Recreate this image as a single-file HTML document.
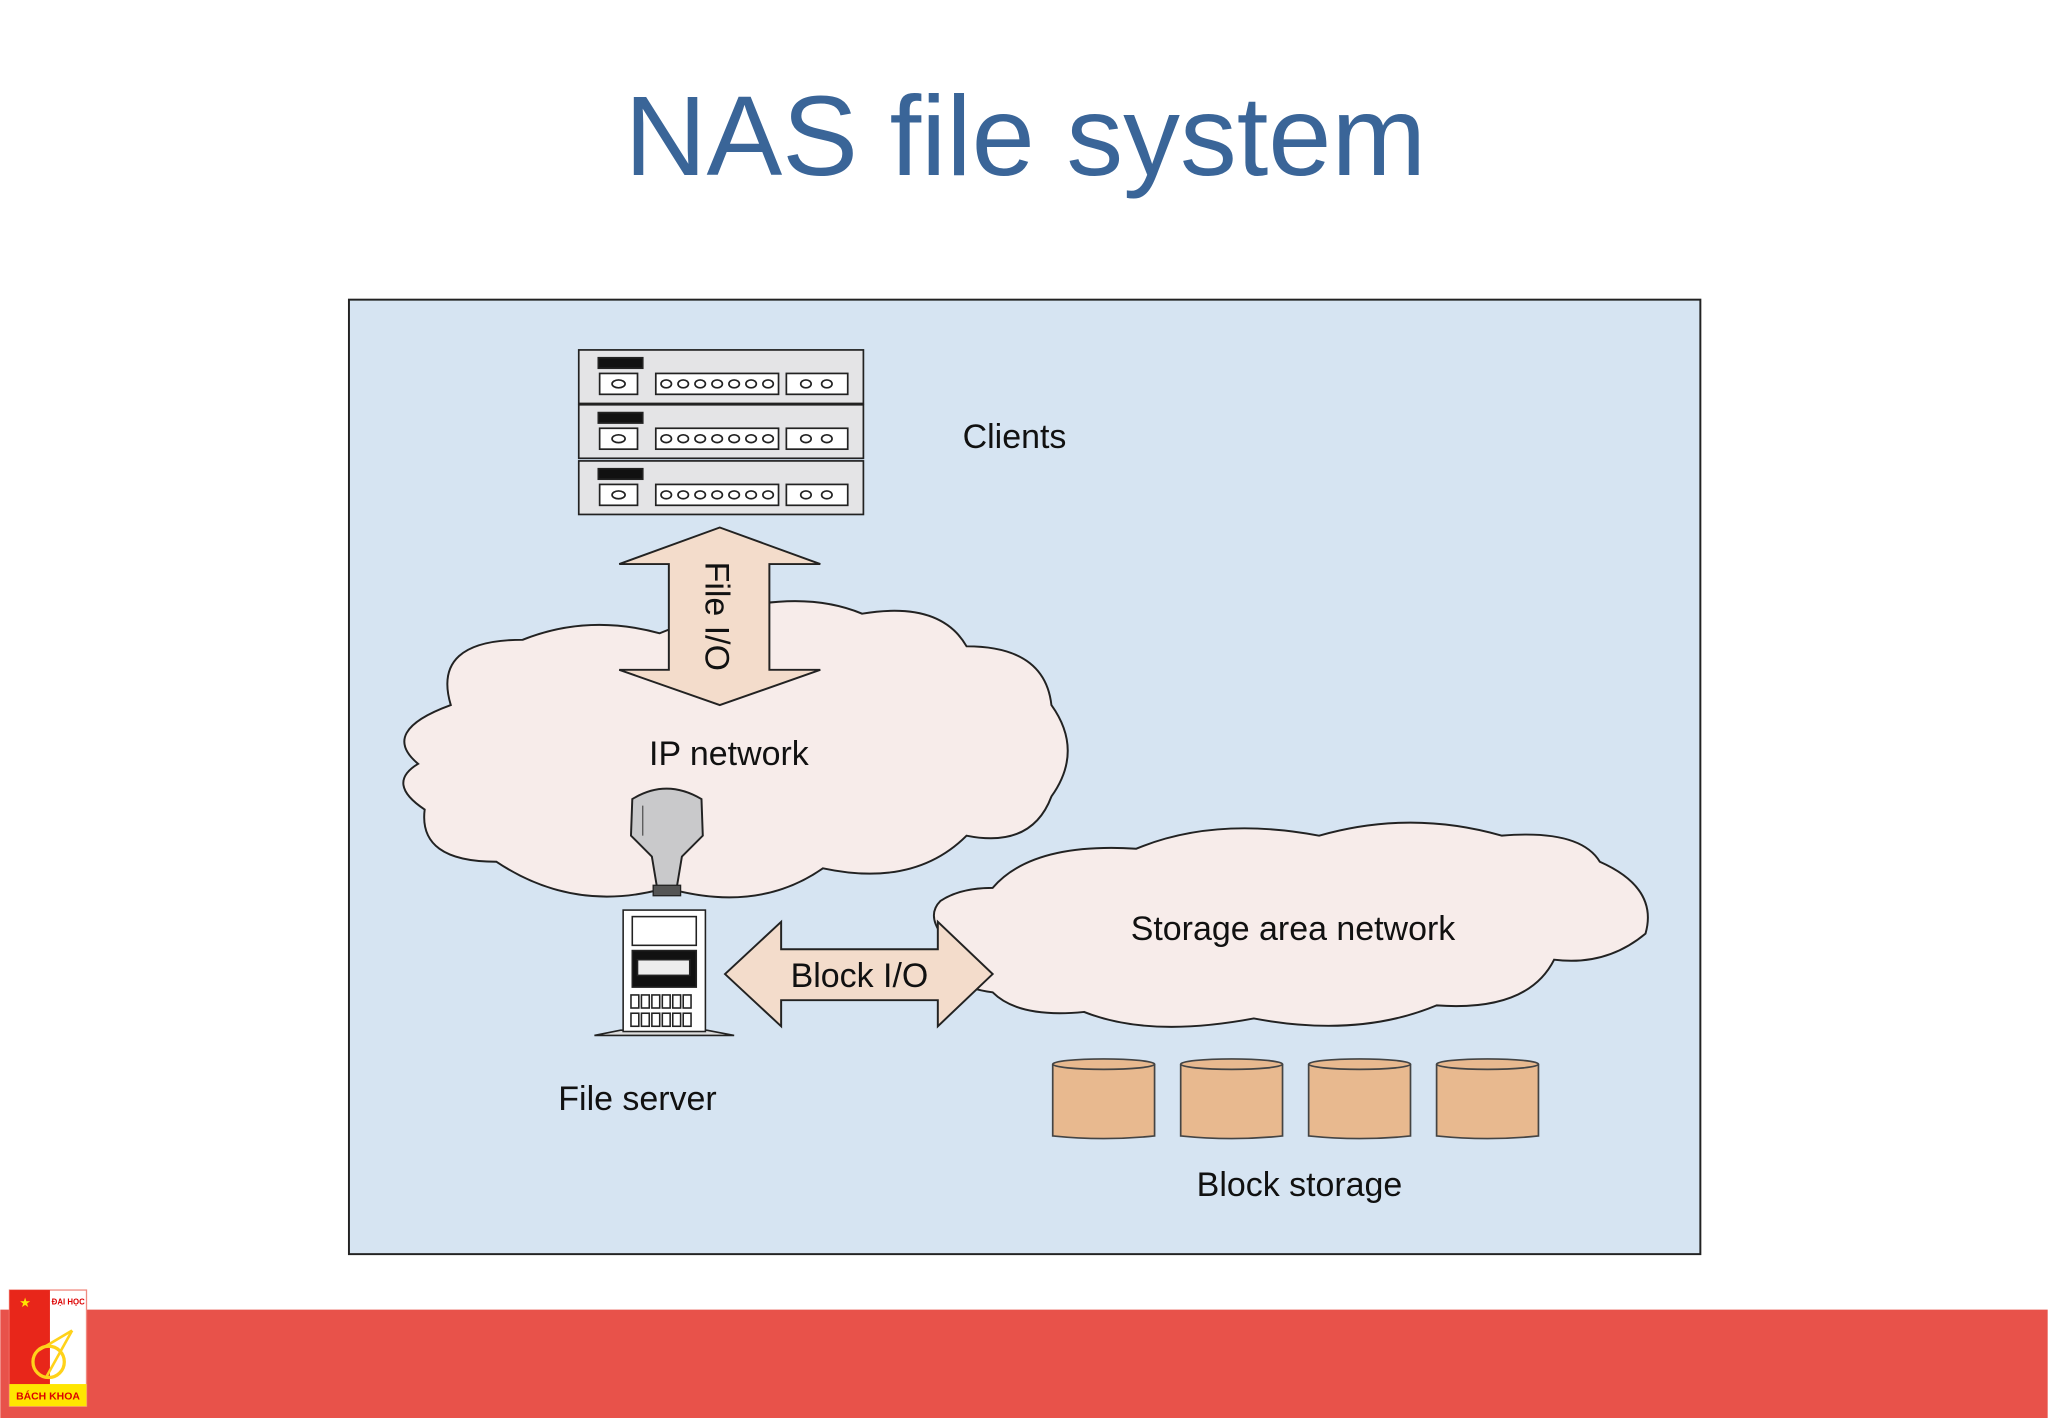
<!DOCTYPE html>
<html><head><meta charset="utf-8"><style>
html,body{margin:0;padding:0;background:#fff;}
svg{display:block;}
</style></head><body>
<svg width="2048" height="1418" viewBox="0 0 1568 1086" xmlns="http://www.w3.org/2000/svg" font-family="Liberation Sans, DejaVu Sans, sans-serif">
<rect width="1568" height="1086" fill="#fff"/>
<text x="785" y="134" text-anchor="middle" font-size="87" fill="#3a6598">NAS file system</text>
<rect x="267" y="229.5" width="1035" height="731" fill="#d6e4f2" stroke="#222" stroke-width="1.5"/>

<g stroke="#222" stroke-width="1.3">
<g id="r1">
<rect x="443" y="268" width="218" height="41" fill="#e4e4e6"/>
<rect x="458" y="274" width="34" height="8" fill="#111"/>
<rect x="459" y="286" width="29" height="16" fill="#fff"/>
<ellipse cx="473.5" cy="294" rx="5" ry="3" fill="none"/>
<rect x="502" y="286" width="94" height="16" fill="#fff"/>
<g fill="none"><ellipse cx="510" cy="294" rx="4" ry="3"/><ellipse cx="523" cy="294" rx="4" ry="3"/><ellipse cx="536" cy="294" rx="4" ry="3"/><ellipse cx="549" cy="294" rx="4" ry="3"/><ellipse cx="562" cy="294" rx="4" ry="3"/><ellipse cx="575" cy="294" rx="4" ry="3"/><ellipse cx="588" cy="294" rx="4" ry="3"/></g>
<rect x="602" y="286" width="47" height="16" fill="#fff"/>
<g fill="none"><ellipse cx="617" cy="294" rx="4" ry="3"/><ellipse cx="633" cy="294" rx="4" ry="3"/></g>
</g>
<use href="#r1" y="42"/>
<use href="#r1" y="85"/>
</g>
<text x="737" y="343" font-size="26" fill="#111">Clients</text>

<path d="M345,540 Q330,490 400,490 Q450,470 505,485 Q600,445 660,470 Q720,460 740,495 Q800,495 805,540 Q830,575 805,610 Q790,650 740,640 Q700,680 630,665 Q580,700 510,680 Q440,700 380,660 Q320,660 325,620 Q295,600 320,585 Q290,560 345,540 Z" fill="#f7ecea" stroke="#222" stroke-width="1.5"/>
<text x="558" y="586" text-anchor="middle" font-size="26" fill="#111">IP network</text>

<path d="M551,404 L628,432 L589,432 L589,513 L628,513 L551,540 L474,513 L512,513 L512,432 L474,432 Z" fill="#f3dccb" stroke="#222" stroke-width="1.5"/>
<text transform="translate(540,472) rotate(90)" text-anchor="middle" font-size="26" fill="#111">File I/O</text>

<path d="M484,612 Q510,596 537,612 L538,640 L522,656 L518,680 L503,680 L499,656 L483,640 Z" fill="#c9c9cb" stroke="#222" stroke-width="1.5"/>
<rect x="500" y="678" width="21" height="8" fill="#555" stroke="#222"/>
<line x1="492" y1="617" x2="492" y2="640" stroke="#555" stroke-width="1"/>

<g stroke="#222" stroke-width="1.2">
<path d="M455,793 L475,789 L541,789 L562,793 Z" fill="#ddd"/>
<rect x="477" y="697" width="63" height="93" fill="#fff"/>
<rect x="484" y="702" width="49" height="22" fill="#fff"/>
<rect x="484" y="728" width="49" height="28" fill="#111"/>
<rect x="488" y="735" width="40" height="12" fill="#eee"/>
<g fill="#fff"><rect x="483" y="762" width="6" height="10"/><rect x="491" y="762" width="6" height="10"/><rect x="499" y="762" width="6" height="10"/><rect x="507" y="762" width="6" height="10"/><rect x="515" y="762" width="6" height="10"/><rect x="523" y="762" width="6" height="10"/><rect x="483" y="776" width="6" height="10"/><rect x="491" y="776" width="6" height="10"/><rect x="499" y="776" width="6" height="10"/><rect x="507" y="776" width="6" height="10"/><rect x="515" y="776" width="6" height="10"/><rect x="523" y="776" width="6" height="10"/></g>
</g>
<text x="488" y="850" text-anchor="middle" font-size="26" fill="#111">File server</text>

<path d="M760,680 Q790,645 870,650 Q930,625 1010,640 Q1080,620 1150,640 Q1210,635 1225,660 Q1270,680 1260,715 Q1230,740 1190,735 Q1170,775 1100,770 Q1040,795 960,780 Q880,795 830,775 Q780,780 760,760 Q720,755 735,730 Q705,705 720,690 Q735,680 760,680 Z" fill="#f7ecea" stroke="#222" stroke-width="1.5"/>
<text x="990" y="720" text-anchor="middle" font-size="26" fill="#111">Storage area network</text>

<path d="M555,746 L598,706 L598,727 L718,727 L718,706 L760,746 L718,786 L718,766 L598,766 L598,786 Z" fill="#f3dccb" stroke="#222" stroke-width="1.5"/>
<text x="658" y="756" text-anchor="middle" font-size="26" fill="#111">Block I/O</text>

<g fill="#e8b98f" stroke="#444" stroke-width="1.3">
<g id="c1"><path d="M806,815 L806,870 Q845,874 884,870 L884,815"/><ellipse cx="845" cy="815" rx="39" ry="4"/></g>
<use href="#c1" x="98"/><use href="#c1" x="196"/><use href="#c1" x="294"/>
</g>
<text x="995" y="916" text-anchor="middle" font-size="26" fill="#111">Block storage</text>

<rect x="0" y="1003" width="1568" height="83" fill="#e8524a"/>
<rect x="7" y="988" width="59" height="89" fill="#fff" stroke="#f08a80" stroke-width="1"/>
<rect x="7" y="988" width="31" height="73" fill="#e8261a"/>
<rect x="7" y="1060" width="59" height="17" fill="#ffe600"/>
<text x="19" y="1001" font-size="10" fill="#ffe600" text-anchor="middle">★</text>
<text x="52" y="999" font-size="6" fill="#d00" text-anchor="middle" font-weight="bold">ĐẠI HỌC</text>
<circle cx="37" cy="1043" r="12" fill="none" stroke="#ffd21a" stroke-width="2.5"/>
<line x1="35" y1="1055" x2="55" y2="1019" stroke="#ffd21a" stroke-width="2"/>
<line x1="28" y1="1035" x2="55" y2="1019" stroke="#ffd21a" stroke-width="2"/>
<text x="36.5" y="1072" font-size="8" fill="#d00" text-anchor="middle" font-weight="bold">BÁCH KHOA</text>
</svg>
</body></html>
